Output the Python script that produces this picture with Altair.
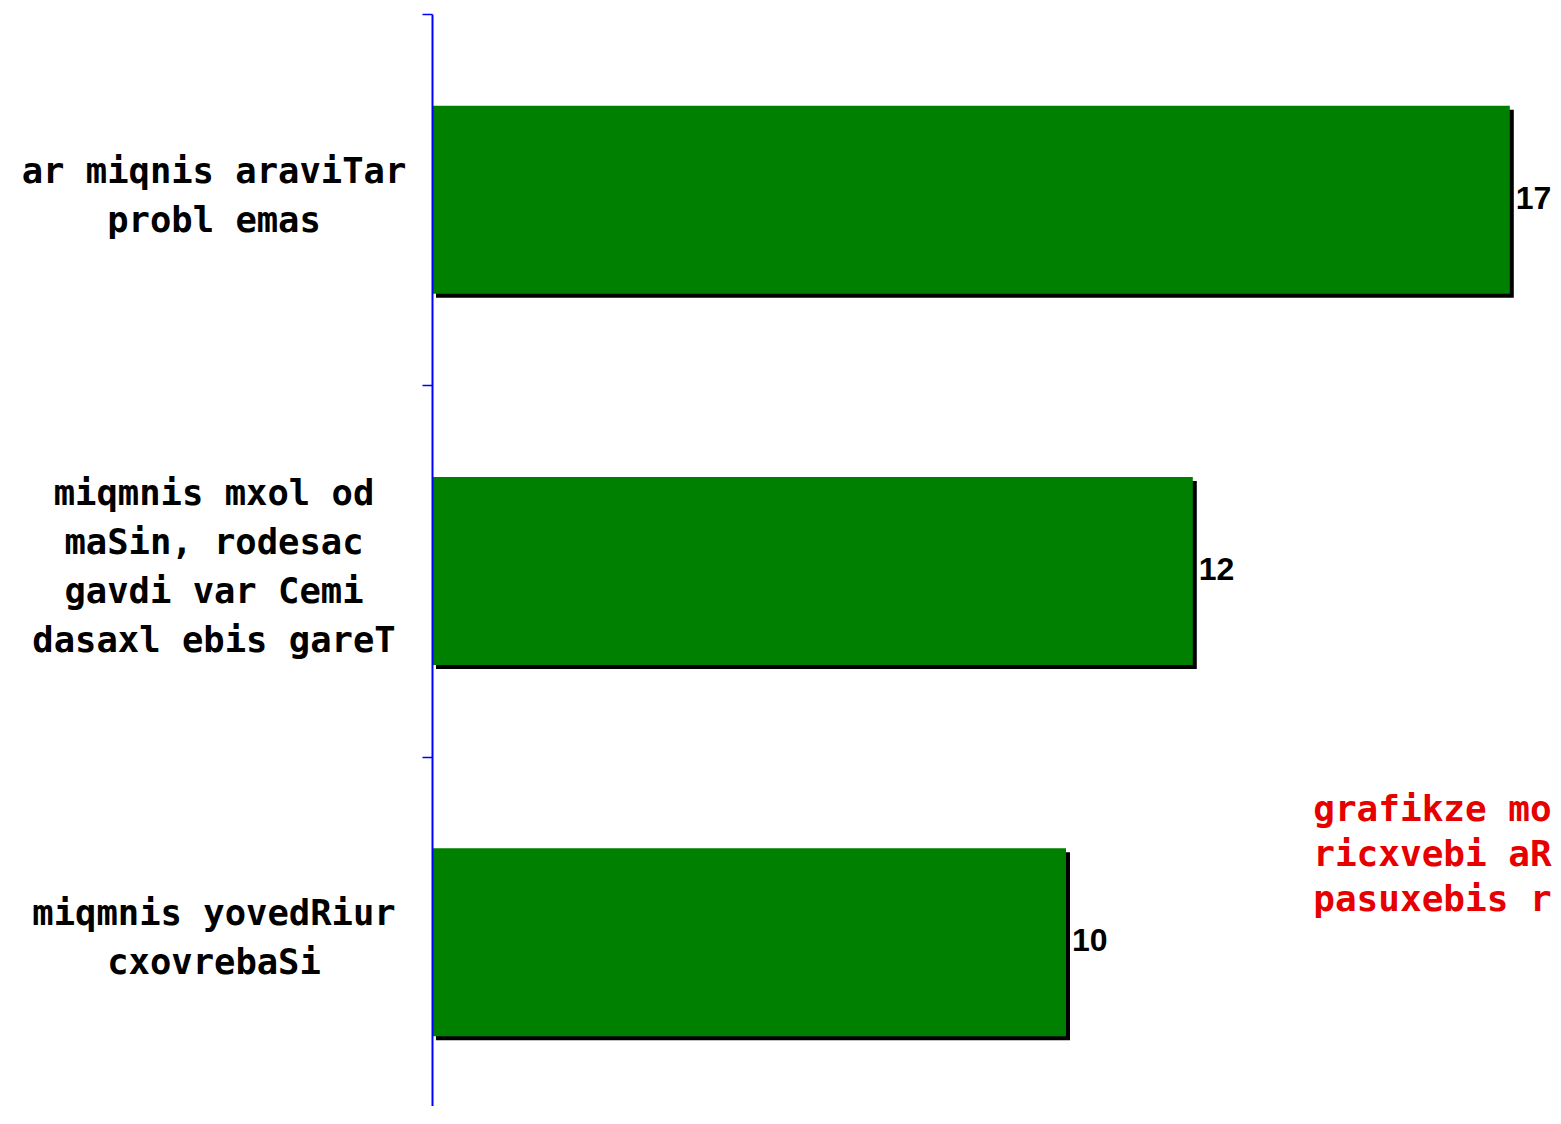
import altair as alt
import pandas as pd

categories = [
    "ar miqnis araviTar\nprobl emas",
    "miqmnis mxol od\nmaSin, rodesac\ngavdi var Cemi\ndasaxl ebis gareT",
    "miqmnis yovedRiur\ncxovrebaSi",
]
values = [17, 12, 10]
note_text = "grafikze mocemuli\nricxvebi aRniSnaven\npasuxebis raodenobas"
note_x = 13.9

LINE_H = 49

df = pd.DataFrame({"cat": categories, "val": values})
note_df = pd.DataFrame({"t": [note_text], "x": [note_x]})

y_scale = alt.Scale(paddingInner=0, paddingOuter=0, range=[0, 1114])
y_enc = alt.Y(
    "cat:N",
    sort=categories,
    scale=y_scale,
    axis=alt.Axis(
        labels=False,
        title=None,
        domainColor="#0000ff",
        domainWidth=2,
        tickColor="#0000ff",
        tickWidth=1.5,
        tickSize=10,
        tickBand="extent",
        zindex=1,
    ),
)
x_scale = alt.Scale(domain=[0, 20], nice=False, range=[0, 1268])
x_enc = alt.X("val:Q", scale=x_scale, axis=None)

base = alt.Chart(df)

shadow = base.mark_bar(size=188, color="black", xOffset=4, yOffset=4).encode(x=x_enc, y=y_enc)
bars = base.mark_bar(size=188, color="#008000").encode(x=x_enc, y=y_enc)
vlabels = base.mark_text(
    align="left", baseline="middle", dx=6, dy=-1,
    font="Liberation Sans", fontWeight="bold", fontSize=32, color="black",
).encode(x=x_enc, y=y_enc, text="val:Q")

cat_layers = []
for c in categories:
    n = c.count("\n") + 1
    cat_layers.append(
        base.transform_filter(alt.datum.cat == c).mark_text(
            align="center", baseline="middle", lineBreak="\n", lineHeight=LINE_H,
            dy=-(n - 1) * LINE_H / 2 - 3.5,
            font="DejaVu Sans Mono", fontWeight="bold", fontSize=35.5, color="black",
        ).encode(x=alt.value(-218), y=y_enc, text="cat:N")
    )

note = alt.Chart(note_df).mark_text(
    align="left", baseline="middle", lineBreak="\n", lineHeight=45,
    font="DejaVu Sans Mono", fontWeight="bold", fontSize=36, color="#e60000",
).encode(x=alt.X("x:Q", scale=x_scale, axis=None),
         y=alt.value(796), text="t:N")

chart = alt.layer(shadow, bars, vlabels, *cat_layers, note).properties(
    width=1121,
    height=1092,
    autosize=alt.AutoSizeParams(type="none"),
    padding={"left": 424, "top": 6, "right": 0, "bottom": 0},
).configure_view(stroke=None)

chart.save("out.html", embed_options={"renderer": "svg", "actions": False})
